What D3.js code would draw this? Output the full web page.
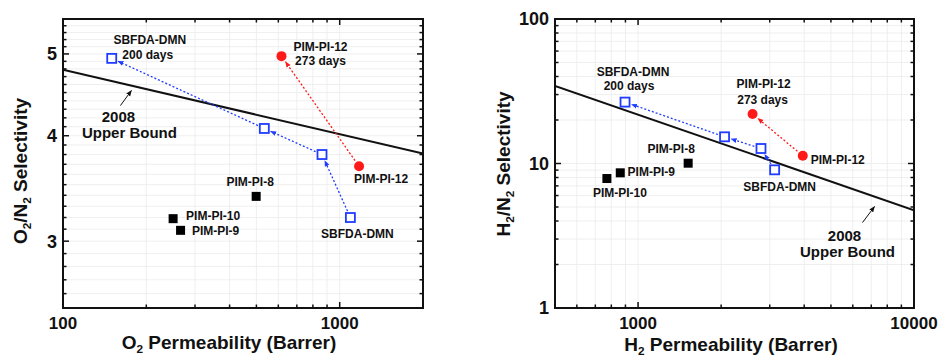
<!DOCTYPE html>
<html lang="en">
<head>
<meta charset="utf-8">
<title>Permeability vs selectivity</title>
<script src="https://d3js.org/d3.v7.min.js"></script>
<style>
  body { margin: 0; background: #fff; }
  text { font-family: "Liberation Sans", Arial, sans-serif; font-weight: bold; fill: #111; }
</style>
</head>
<body>
<div id="chart"></div>
<script>
// ---- O2/N2 panel ----
var o2SbfdaPerm = [1093, 863, 534, 150];
var o2SbfdaSel = [3.20, 3.80, 4.08, 4.94];
var o2Pim12Perm = [1175, 616];
var o2Pim12Sel = [3.68, 4.97];
var o2PimNames = ["PIM-PI-8", "PIM-PI-10", "PIM-PI-9"];
var o2PimPerm = [499, 250, 266];
var o2PimSel = [3.39, 3.19, 3.09];
var o2BoundPerm = [100, 2000];
var o2BoundSel = [4.79, 3.81];
var o2XLabels = [100, 1000];
var o2YLabels = [3, 4, 5];

// ---- H2/N2 panel ----
var h2SbfdaPerm = [3126, 2789, 2058, 897];
var h2SbfdaSel = [9.04, 12.7, 15.3, 26.6];
var h2Pim12Perm = [3953, 2600];
var h2Pim12Sel = [11.3, 22.0];
var h2PimNames = ["PIM-PI-8", "PIM-PI-9", "PIM-PI-10"];
var h2PimPerm = [1519, 862, 771];
var h2PimSel = [10.05, 8.62, 7.87];
var h2BoundPerm = [500, 10000];
var h2BoundSel = [34.4, 4.75];
var h2XLabels = [1000, 10000];
var h2YLabels = [1, 10, 100];

var W = 938, H = 357;
var blue = "#1f3cff", red = "#ff1a1a";

var svg = d3.select("#chart").append("svg")
    .attr("width", W).attr("height", H);

var defs = svg.append("defs");
[["arrBlue", blue], ["arrRed", red], ["arrBlack", "#111"]].forEach(function (a) {
    defs.append("marker")
        .attr("id", a[0])
        .attr("viewBox", "0 0 10 10")
        .attr("refX", 9).attr("refY", 5)
        .attr("markerWidth", 6).attr("markerHeight", 6)
        .attr("markerUnits", "userSpaceOnUse")
        .attr("orient", "auto")
        .append("path").attr("d", "M0,1 L10,5 L0,9 Z").attr("fill", a[1]);
});

function subText(sel, parts) {
    // parts: [text, isSub]
    parts.forEach(function (p, i) {
        var t = sel.append("tspan").text(p[0]);
        if (p[1]) t.attr("font-size", "0.62em").attr("dy", "0.35em");
        else if (i > 0 && parts[i - 1][1]) t.attr("dy", "-0.22em");
    });
}

function drawPanel(cfg) {
    var x = d3.scaleLog().domain(cfg.xDomain).range([cfg.left, cfg.right]);
    var y = d3.scaleLog().domain(cfg.yDomain).range([cfg.bottom, cfg.top]);
    var g = svg.append("g");

    // grid
    var xt = x.ticks(), yt = cfg.yTicks(y);
    g.append("g").selectAll("line").data(xt).join("line")
        .attr("x1", d => x(d)).attr("x2", d => x(d))
        .attr("y1", cfg.top).attr("y2", cfg.bottom)
        .attr("stroke", "#ebebeb").attr("stroke-width", 0.8);
    g.append("g").selectAll("line").data(yt).join("line")
        .attr("y1", d => y(d)).attr("y2", d => y(d))
        .attr("x1", cfg.left).attr("x2", cfg.right)
        .attr("stroke", "#ebebeb").attr("stroke-width", 0.8);

    // inward ticks on all four sides
    function isMajor(v, list) { return list.some(m => Math.abs(m - v) < 1e-9); }
    var tk = g.append("g").attr("stroke", "#111").attr("stroke-width", 1.5);
    xt.forEach(function (d) {
        var L = isMajor(d, cfg.xLabels) ? 6 : 3.5;
        tk.append("line").attr("x1", x(d)).attr("x2", x(d)).attr("y1", cfg.bottom).attr("y2", cfg.bottom - L);
        tk.append("line").attr("x1", x(d)).attr("x2", x(d)).attr("y1", cfg.top).attr("y2", cfg.top + L);
    });
    yt.forEach(function (d) {
        var L = isMajor(d, cfg.yLabels) ? 6 : 3.5;
        tk.append("line").attr("y1", y(d)).attr("y2", y(d)).attr("x1", cfg.left).attr("x2", cfg.left + L);
        tk.append("line").attr("y1", y(d)).attr("y2", y(d)).attr("x1", cfg.right).attr("x2", cfg.right - L);
    });

    // tick labels
    g.append("g").selectAll("text").data(cfg.xLabels).join("text")
        .attr("x", d => x(d)).attr("y", cfg.bottom + 21)
        .attr("text-anchor", "middle").attr("font-size", 17).text(d => d);
    g.append("g").selectAll("text").data(cfg.yLabels).join("text")
        .attr("x", cfg.left - 6).attr("y", d => y(d)).attr("dy", "0.36em")
        .attr("text-anchor", "end").attr("font-size", 18).text(d => d);

    // axis titles
    var xtTitle = g.append("text").attr("x", cfg.xTitleX).attr("y", cfg.xTitleY)
        .attr("text-anchor", "middle").attr("font-size", 19);
    subText(xtTitle, cfg.xTitle);
    var ytTitle = g.append("text")
        .attr("transform", "translate(" + cfg.yTitleX + "," + cfg.yTitleY + ") rotate(-90)")
        .attr("text-anchor", "middle").attr("font-size", 19).attr("dy", "0.35em");
    subText(ytTitle, cfg.yTitle);

    // upper bound line
    var clip = "clip" + cfg.id;
    defs.append("clipPath").attr("id", clip).append("rect")
        .attr("x", cfg.left).attr("y", cfg.top)
        .attr("width", cfg.right - cfg.left).attr("height", cfg.bottom - cfg.top);
    g.append("line")
        .attr("clip-path", "url(#" + clip + ")")
        .attr("x1", x(cfg.boundPerm[0])).attr("y1", y(cfg.boundSel[0]))
        .attr("x2", x(cfg.boundPerm[1])).attr("y2", y(cfg.boundSel[1]))
        .attr("stroke", "#111").attr("stroke-width", 2);

    // aging arrows
    function arrows(perm, sel, color, mk, gap) {
        for (var i = 0; i < perm.length - 1; i++) {
            var x1 = x(perm[i]), y1 = y(sel[i]), x2 = x(perm[i + 1]), y2 = y(sel[i + 1]);
            var dx = x2 - x1, dy = y2 - y1, len = Math.sqrt(dx * dx + dy * dy);
            var ux = dx / len, uy = dy / len;
            g.append("line")
                .attr("x1", x1 + ux * gap).attr("y1", y1 + uy * gap)
                .attr("x2", x2 - ux * gap).attr("y2", y2 - uy * gap)
                .attr("stroke", color).attr("stroke-width", 1.3)
                .attr("stroke-dasharray", "2,2")
                .attr("marker-end", "url(#" + mk + ")");
        }
    }
    arrows(cfg.sbfdaPerm, cfg.sbfdaSel, blue, "arrBlue", 7);
    arrows(cfg.pim12Perm, cfg.pim12Sel, red, "arrRed", 7);

    // markers
    g.append("g").selectAll("rect").data(cfg.pimPerm).join("rect")
        .attr("x", (d, i) => x(d) - 4.5).attr("y", (d, i) => y(cfg.pimSel[i]) - 4.5)
        .attr("width", 9).attr("height", 9).attr("fill", "#000");
    g.append("g").selectAll("rect").data(cfg.sbfdaPerm).join("rect")
        .attr("x", (d, i) => x(d) - 4.5).attr("y", (d, i) => y(cfg.sbfdaSel[i]) - 4.5)
        .attr("width", 9).attr("height", 9)
        .attr("fill", "#fff").attr("stroke", blue).attr("stroke-width", 1.8);
    g.append("g").selectAll("circle").data(cfg.pim12Perm).join("circle")
        .attr("cx", d => x(d)).attr("cy", (d, i) => y(cfg.pim12Sel[i]))
        .attr("r", 5).attr("fill", red);

    // frame
    g.append("rect")
        .attr("x", cfg.left).attr("y", cfg.top)
        .attr("width", cfg.right - cfg.left).attr("height", cfg.bottom - cfg.top)
        .attr("fill", "none").attr("stroke", "#111").attr("stroke-width", 2);

    // point annotations: [text, anchor perm, anchor sel, dx, dy]
    cfg.notes.forEach(function (n) {
        g.append("text")
            .attr("x", x(n[1]) + n[3]).attr("y", y(n[2]) + n[4]).attr("dy", "0.35em")
            .attr("text-anchor", "middle").attr("font-size", 12).text(n[0]);
    });

    // upper bound callout
    var b = cfg.boundNote;
    var lp = Math.pow(10, Math.log10(cfg.boundPerm[0]) +
        (Math.log10(cfg.boundPerm[1]) - Math.log10(cfg.boundPerm[0])) * b.t);
    var ls = Math.pow(10, Math.log10(cfg.boundSel[0]) +
        (Math.log10(cfg.boundSel[1]) - Math.log10(cfg.boundSel[0])) * b.t);
    var bx = x(lp), by = y(ls);
    g.append("line")
        .attr("x1", bx + b.tail[0]).attr("y1", by + b.tail[1])
        .attr("x2", bx + b.tip[0]).attr("y2", by + b.tip[1])
        .attr("stroke", "#111").attr("stroke-width", 1)
        .attr("marker-end", "url(#arrBlack)");
    g.append("text").attr("x", bx + b.l1[0]).attr("y", by + b.l1[1]).attr("dy", "0.35em")
        .attr("text-anchor", "middle").attr("font-size", 15).text("2008");
    g.append("text").attr("x", bx + b.l2[0]).attr("y", by + b.l2[1]).attr("dy", "0.35em")
        .attr("text-anchor", "middle").attr("font-size", 15).text("Upper Bound");
}

drawPanel({
    id: "o2", left: 63, right: 423, top: 19, bottom: 308,
    xDomain: [100, 2000], yDomain: [2.5, 5.5],
    yTicks: function (y) { return y.ticks(30); },
    xLabels: o2XLabels, yLabels: o2YLabels,
    xTitle: [["O", false], ["2", true], [" Permeability (Barrer)", false]],
    xTitleX: 229, xTitleY: 349,
    yTitle: [["O", false], ["2", true], ["/N", false], ["2", true], ["  Selectivity", false]],
    yTitleX: 20, yTitleY: 171,
    boundPerm: o2BoundPerm, boundSel: o2BoundSel,
    sbfdaPerm: o2SbfdaPerm, sbfdaSel: o2SbfdaSel,
    pim12Perm: o2Pim12Perm, pim12Sel: o2Pim12Sel,
    pimPerm: o2PimPerm, pimSel: o2PimSel,
    notes: [
        ["SBFDA-DMN", o2SbfdaPerm[3], o2SbfdaSel[3], 38, -19],
        ["200 days", o2SbfdaPerm[3], o2SbfdaSel[3], 36, -4],
        ["PIM-PI-12", o2Pim12Perm[1], o2Pim12Sel[1], 39, -9],
        ["273 days", o2Pim12Perm[1], o2Pim12Sel[1], 39, 5],
        ["PIM-PI-12", o2Pim12Perm[0], o2Pim12Sel[0], 22, 13],
        ["SBFDA-DMN", o2SbfdaPerm[0], o2SbfdaSel[0], 7, 16],
        [o2PimNames[0], o2PimPerm[0], o2PimSel[0], -6, -15],
        [o2PimNames[1], o2PimPerm[1], o2PimSel[1], 40, -3],
        [o2PimNames[2], o2PimPerm[2], o2PimSel[2], 35, 0]
    ],
    boundNote: { t: 0.19, tip: [0, 5], tail: [-11, 20], l1: [-13, 31], l2: [-2, 47] }
});

drawPanel({
    id: "h2", left: 555, right: 914, top: 19, bottom: 308,
    xDomain: [500, 10000], yDomain: [1, 100],
    yTicks: function (y) { return y.ticks(); },
    xLabels: h2XLabels, yLabels: h2YLabels,
    xTitle: [["H", false], ["2", true], [" Permeability (Barrer)", false]],
    xTitleX: 731, xTitleY: 351,
    yTitle: [["H", false], ["2", true], ["/N", false], ["2", true], [" Selectivity", false]],
    yTitleX: 503, yTitleY: 164,
    boundPerm: h2BoundPerm, boundSel: h2BoundSel,
    sbfdaPerm: h2SbfdaPerm, sbfdaSel: h2SbfdaSel,
    pim12Perm: h2Pim12Perm, pim12Sel: h2Pim12Sel,
    pimPerm: h2PimPerm, pimSel: h2PimSel,
    notes: [
        ["SBFDA-DMN", h2SbfdaPerm[3], h2SbfdaSel[3], 8, -30],
        ["200 days", h2SbfdaPerm[3], h2SbfdaSel[3], 4, -16],
        ["PIM-PI-12", h2Pim12Perm[1], h2Pim12Sel[1], 11, -30],
        ["273 days", h2Pim12Perm[1], h2Pim12Sel[1], 10, -14],
        ["PIM-PI-12", h2Pim12Perm[0], h2Pim12Sel[0], 35, 4],
        ["SBFDA-DMN", h2SbfdaPerm[0], h2SbfdaSel[0], 5, 17],
        [h2PimNames[0], h2PimPerm[0], h2PimSel[0], -17, -14],
        [h2PimNames[1], h2PimPerm[1], h2PimSel[1], 31, -1],
        [h2PimNames[2], h2PimPerm[2], h2PimSel[2], 13, 14]
    ],
    boundNote: { t: 0.89, tip: [0, 10], tail: [-12, 26], l1: [-30, 39], l2: [-27, 55] }
});
</script>
</body>
</html>
